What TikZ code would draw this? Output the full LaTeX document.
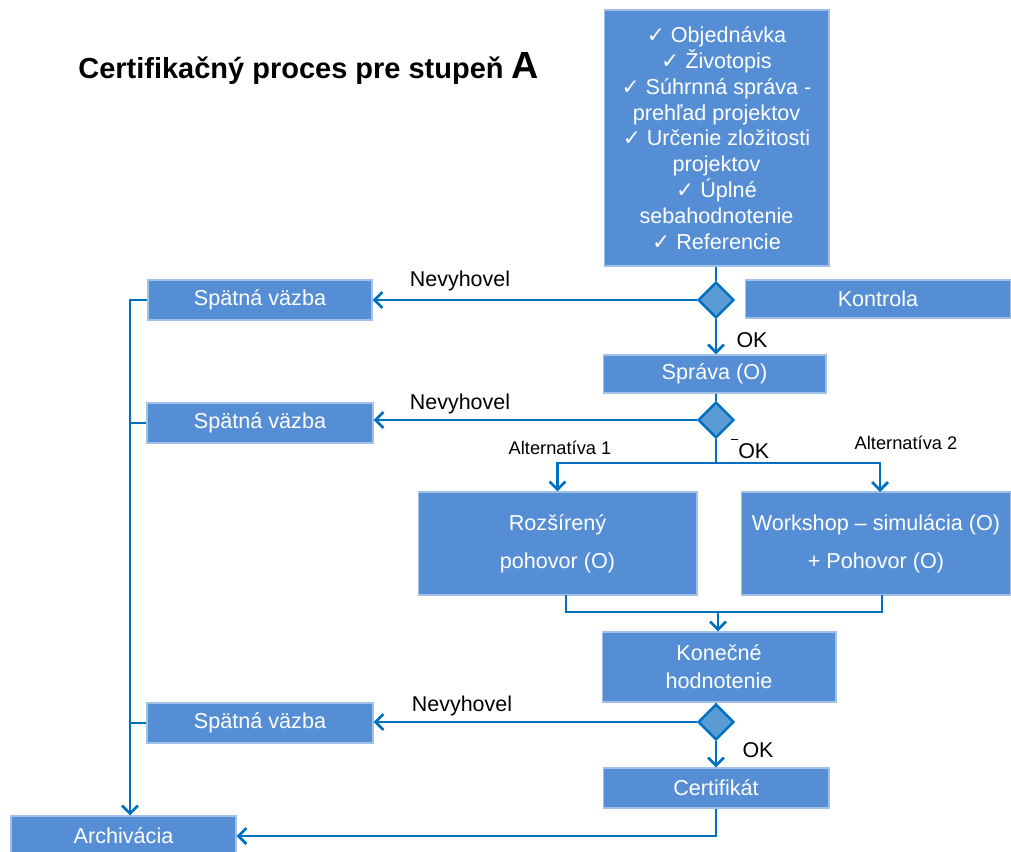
\documentclass[tikz,border=0pt]{standalone}
\usepackage{fontspec}
\setmainfont{Liberation Sans}
\newfontfamily\symfont{DejaVu Sans}
\usepackage{tikz}
\usetikzlibrary{shapes.geometric,arrows.meta}
\definecolor{boxblue}{RGB}{85,142,213}
\definecolor{diablue}{RGB}{91,155,213}
\definecolor{linkblue}{RGB}{0,112,192}
\newcommand{\chk}{{\symfont\char"2713}\ }

\begin{document}
\begin{tikzpicture}[x=0.02cm,y=-0.02cm,
    block_box/.style ={rectangle, draw=boxblue!55!white, line width=0.6pt, fill=boxblue,
      text=white, align=center, inner sep=0pt,
      font=\fontsize{12.3}{14}\selectfont},
    block_check/.style ={block_box, minimum width=4.5cm, minimum height=5.12cm,
      font=\fontsize{12.3}{14.7}\selectfont},
    block_small/.style ={block_box, minimum width=4.5cm, minimum height=0.78cm},
    block_alt/.style ={block_box, minimum height=2.06cm,
      font=\fontsize{12.3}{21.5}\selectfont},
    decision/.style ={diamond, draw=linkblue, line width=1.4pt, fill=diablue,
      minimum size=0.72cm, inner sep=0pt},
    label_text/.style ={font=\fontsize{12.2}{14}\selectfont, inner sep=0pt},
    label_small/.style ={font=\fontsize{10.4}{12}\selectfont, inner sep=0pt},
    line/.style ={draw, linkblue, line width=1.6pt,
      -{Straight Barb[length=4.5pt,width=9pt]}},
    line_plain/.style ={draw, linkblue, line width=1.6pt}]
    \useasboundingbox (0,0) rectangle (1011,852);
    % title
    \node [anchor=base west, inner sep=0pt] (title) at (78,78)
      {\fontsize{16.5}{19}\selectfont\bfseries Certifikačný proces pre stupeň \fontsize{21.5}{24}\selectfont A};
    % main column
    \node [block_check] (docs) at (716.5,138) {\chk Objednávka\\ \chk Životopis\\
      \chk Súhrnná správa -\\ prehľad projektov\\ \chk Určenie zložitosti\\ projektov\\
      \chk Úplné\\ sebahodnotenie\\ \chk Referencie};
    \node [decision] (check1) at (716,300) {};
    \node [block_small, minimum width=5.32cm, minimum height=0.76cm] (kontrola) at (878,299) {Kontrola};
    \node [block_small, minimum width=4.46cm, minimum height=0.76cm] (sprava) at (714.5,374) {Správa (O)};
    \node [decision] (check2) at (716,420) {};
    \node [block_alt, minimum width=5.58cm] (alt1) at (557.5,543.5) {Rozšírený\\ pohovor (O)};
    \node [block_alt, minimum width=5.4cm] (alt2) at (876,543.5) {Workshop – simulácia (O)\\ + Pohovor (O)};
    \node [block_small, minimum width=4.68cm, minimum height=1.4cm,
      font=\fontsize{12.3}{16}\selectfont] (final) at (719,667) {Konečné\\ hodnotenie};
    \node [decision] (check3) at (716,722) {};
    \node [block_small, minimum width=4.52cm, minimum height=0.8cm] (cert) at (716,788) {Certifikát};
    % feedback column
    \node [block_small, minimum width=4.48cm, minimum height=0.8cm] (back1) at (260,300) {Spätná väzba};
    \node [block_small, minimum width=4.52cm, minimum height=0.8cm] (back2) at (260,423) {Spätná väzba};
    \node [block_small, minimum width=4.52cm, minimum height=0.8cm] (back3) at (260,723) {Spätná väzba};
    \node [block_small, minimum width=4.5cm, minimum height=0.8cm] (archiv) at (123.5,836) {Archivácia};
    % labels
    \node [label_text] (no1) at (460,281) {Nevyhovel};
    \node [label_text] (no2) at (460,404) {Nevyhovel};
    \node [label_text] (no3) at (462,706) {Nevyhovel};
    \node [label_text] (ok1) at (752,340) {OK};
    \node [label_text] (ok2) at (750,449) {\rule[1.6ex]{0.35em}{0.5pt}OK};
    \node [label_text] (ok3) at (758,750) {OK};
    \node [label_small] (alttext1) at (560,448) {Alternatíva 1};
    \node [label_small] (alttext2) at (906,443) {Alternatíva 2};
    % helper points
    \coordinate (split) at (716,463);
    \coordinate (join) at (718,612);
    \coordinate (bus) at (130,300);
    % connecting nodes with paths
    \begin{scope}[every path/.style=line]
      \path (check1.west) -- (back1.east);
      \path (check1.south) -- (check1.south |- sprava.north);
      \path (check2.west) -- (check2.west -| back2.east);
      \path (split) -| (alt1.north);
      \path (split) -| (880,492);
      \path (join) -- (join |- final.north);
      \path (check3.west) -- (check3.west -| back3.east);
      \path (check3.south) -- (check3.south |- cert.north);
      \path (cert.south) |- (archiv.east);
      \path (back1.west) -| (bus |- archiv.north);
    \end{scope}
    \begin{scope}[every path/.style=line_plain]
      \path (docs.south -| check1) -- (check1.north);
      \path (sprava.south -| check2) -- (check2.north);
      \path (check2.south) -- (split);
      \path (566,595) |- (join) -| (882,595);
      \path (final.south -| check3) -- (check3.north);
      \path (back2.west) -- (back2.west -| bus);
      \path (back3.west) -- (back3.west -| bus);
    \end{scope}
\end{tikzpicture}
\end{document}
